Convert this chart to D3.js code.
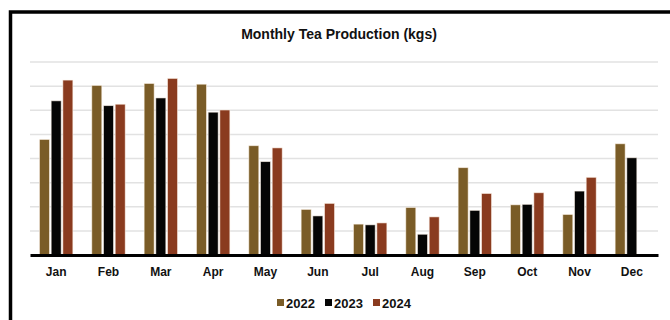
<!DOCTYPE html>
<html>
<head>
<meta charset="utf-8">
<script src="https://cdn.jsdelivr.net/npm/d3@7"></script>
<style>
  html, body { margin: 0; padding: 0; background: #fff; }
  svg { display: block; font-family: "Liberation Sans", Arial, sans-serif; }
</style>
</head>
<body>
<svg id="chart" width="670" height="320"></svg>
<script>
// Monthly tea production (thousand kg)
const months = ["Jan", "Feb", "Mar", "Apr", "May", "Jun", "Jul", "Aug", "Sep", "Oct", "Nov", "Dec"];
const years = ["2022", "2023", "2024"];
const prod2022 = [4.79, 7.03, 7.11, 7.08, 4.53, 1.89, 1.28, 1.97, 3.62, 2.08, 1.68, 4.61];
const prod2023 = [6.39, 6.19, 6.51, 5.92, 3.87, 1.62, 1.25, 0.86, 1.85, 2.10, 2.65, 4.03];
const prod2024 = [7.25, 6.25, 7.32, 6.01, 4.44, 2.14, 1.33, 1.58, 2.55, 2.58, 3.22, null];
const yTicks = [1, 2, 3, 4, 5, 6, 7, 8];
const colors = ["#7a5c27", "#050505", "#8a3b1f"];

const series = [prod2022, prod2023, prod2024];
const rows = months.map((m, i) => ({
  month: m,
  values: years.map((y, k) => ({ year: y, value: series[k][i] }))
}));

const svg = d3.select("#chart");
const plot = { left: 30, right: 658, top: 62, bottom: 255 };

const x0 = d3.scaleBand().domain(months).range([plot.left, plot.right]).padding(0);
const groupW = 33.4;
const x1 = d3.scaleBand().domain(years)
  .range([(x0.bandwidth() - groupW) / 2, (x0.bandwidth() + groupW) / 2])
  .paddingInner(0.145).paddingOuter(0);
const y = d3.scaleLinear().domain([0, 8]).range([plot.bottom, plot.top]);
const color = d3.scaleOrdinal().domain(years).range(colors);

// Outer frame
svg.append("rect")
  .attr("x", 10.5).attr("y", 12)
  .attr("width", 720).attr("height", 400)
  .attr("fill", "none").attr("stroke", "#000").attr("stroke-width", 3.5);

// Title
svg.append("text")
  .attr("x", 339).attr("y", 38.5)
  .attr("text-anchor", "middle")
  .attr("font-size", 14).attr("font-weight", "bold")
  .attr("fill", "#111")
  .text("Monthly Tea Production (kgs)");

// Horizontal gridlines
svg.append("g")
  .selectAll("line")
  .data(yTicks)
  .join("line")
  .attr("x1", plot.left).attr("x2", plot.right)
  .attr("y1", d => y(d)).attr("y2", d => y(d))
  .attr("stroke", "#e2e2e2").attr("stroke-width", 1.5);

// Bars
svg.append("g")
  .selectAll("g")
  .data(rows)
  .join("g")
  .attr("transform", d => `translate(${x0(d.month)},0)`)
  .selectAll("rect")
  .data(d => d.values.filter(v => v.value != null))
  .join("rect")
  .attr("x", d => x1(d.year))
  .attr("width", x1.bandwidth())
  .attr("y", d => y(d.value))
  .attr("height", d => y(0) - y(d.value))
  .attr("fill", d => color(d.year))
  .attr("stroke", "rgba(255,245,235,0.7)")
  .attr("stroke-width", 0.8);

// Category axis
const xAxis = svg.append("g")
  .attr("transform", `translate(0,${plot.bottom})`)
  .call(d3.axisBottom(x0).tickSize(0).tickPadding(12));
xAxis.select(".domain").attr("stroke", "#000").attr("stroke-width", 3.2);
xAxis.selectAll("text")
  .attr("font-size", 12).attr("font-weight", "bold")
  .attr("font-family", "Liberation Sans, Arial, sans-serif")
  .attr("fill", "#111");

// Legend
const legendX = [277, 325, 373];
const legend = svg.append("g")
  .selectAll("g")
  .data(years)
  .join("g")
  .attr("transform", (d, i) => `translate(${legendX[i]},0)`);
legend.append("rect")
  .attr("x", 0).attr("y", 299)
  .attr("width", 7).attr("height", 7)
  .attr("fill", d => color(d));
legend.append("text")
  .attr("x", 9).attr("y", 308)
  .attr("font-size", 13).attr("font-weight", "bold")
  .attr("fill", "#111")
  .text(d => d);
</script>
</body>
</html>
